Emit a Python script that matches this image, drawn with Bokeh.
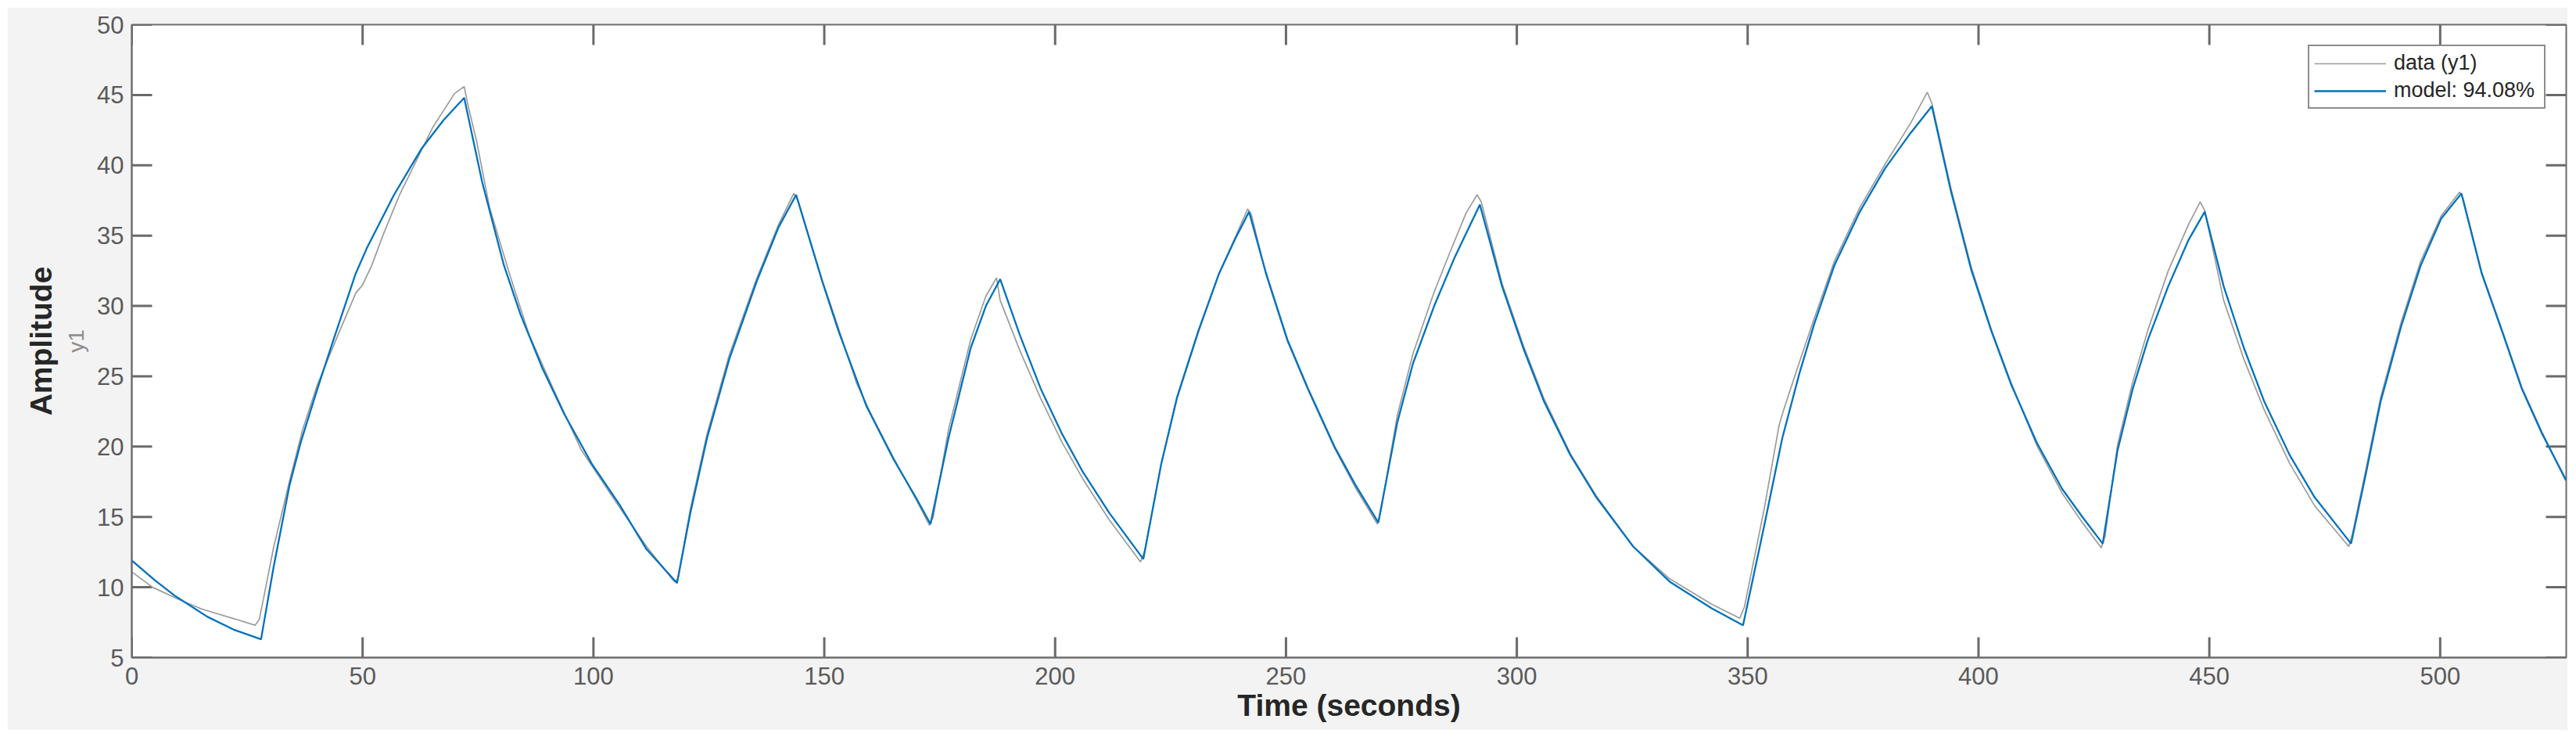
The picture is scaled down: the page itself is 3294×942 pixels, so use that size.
from bokeh.plotting import figure
from bokeh.models import Range1d, FixedTicker, LinearAxis, Legend, LegendItem
from bokeh.embed import file_html
from bokeh.resources import INLINE

# ---------------- data ----------------
x_ticks = [0, 50, 100, 150, 200, 250, 300, 350, 400, 450, 500]
y_ticks = [5, 10, 15, 20, 25, 30, 35, 40, 45, 50]
x_min, x_max = 0, 527.3
y_min, y_max = 5, 50

model_t = [0, 5, 9.3, 16.4, 22, 28.0, 30.7, 34.2, 36.6, 40.2, 43.7, 48.5, 50.9, 56.8, 62.8, 67.5, 72.0,
           75.9, 80.6, 84.2, 88.9, 93.7, 99.6, 105.6, 111.5, 118.1, 121.0, 124.6, 129.4, 135.3, 140.1, 143.9,
           149.6, 153.1, 159.1, 165.0, 169.8, 173.0, 176.9, 181.7, 185.0, 188.1, 192.4, 196.9, 201.5, 206.0,
           211.7, 219.1, 223.0, 226.4, 231.0, 235.5, 238.9, 242.0, 245.7, 250.3, 254.8, 260.5, 265.0, 270.0,
           274.1, 277.5, 282.1, 286.6, 292.0, 296.8, 301.4, 305.9, 311.6, 317.2, 325.2, 333.1, 342.2, 349.0,
           353.6, 357.5, 361.2, 364.4, 368.8, 374.3, 379.8, 385.3, 389.9, 394.0, 398.4, 402.8, 407.1, 412.6,
           418.1, 422.5, 426.9, 430.1, 433.4, 436.7, 441.1, 445.5, 449.0, 453.1, 457.5, 461.9, 467.4, 472.8,
           480.7, 483.8, 487.1, 491.5, 495.8, 500.2, 504.6, 509.0, 513.4, 517.7, 522.1, 527.3]
model_y = [11.9, 10.5, 9.4, 7.9, 7.0, 6.3, 11.4, 17.3, 20.3, 24.1, 27.6, 32.3, 34.1, 37.9, 41.2, 43.2, 44.8,
           38.8, 32.9, 29.4, 25.6, 22.3, 18.8, 15.9, 12.7, 10.3, 15.3, 20.6, 26.2, 31.7, 35.6, 37.9,
           31.7, 28.2, 22.9, 19.1, 16.4, 14.5, 20.6, 27.0, 30.0, 31.9, 27.9, 24.1, 20.9, 18.2,
           15.3, 12.0, 18.8, 23.5, 28.2, 32.3, 34.7, 36.7, 32.3, 27.6, 24.1, 20.0, 17.3, 14.6,
           21.7, 25.9, 30.0, 33.5, 37.2, 31.4, 27.0, 23.2, 19.4, 16.4, 12.9, 10.4, 8.5, 7.3,
           14.4, 20.6, 25.2, 28.7, 32.9, 36.7, 39.8, 42.3, 44.2, 38.2, 32.6, 28.2, 24.4, 20.3,
           17.0, 15.0, 13.1, 19.7, 24.1, 27.6, 31.4, 34.7, 36.7, 31.4, 27.0, 23.2, 19.4, 16.4,
           13.1, 17.9, 23.2, 28.5, 32.9, 36.2, 38.0, 32.3, 28.2, 24.1, 20.9, 17.6]

data_t = [0, 4.5, 10.4, 15.2, 22.3, 26.7, 27.6, 28.6, 30.7, 34.2, 37.0, 40.2, 45.0, 48.5, 50.0, 52.0, 54.5,
          58.0, 61.6, 65.2, 69.9, 72.0, 72.8, 74.7, 77.5, 81.8, 86.0, 91.3, 97.3, 105.6, 111.5, 117.5,
          118.3, 121.0, 124.6, 129.4, 135.3, 140.1, 143.4, 144.3, 149.6, 153.1, 157.0, 160.3, 165.0, 169.8, 172.8,
          173.6, 176.9, 181.7, 185.0, 187.3, 188.1, 192.4, 196.9, 201.5, 206.0, 211.7, 218.5,
          219.4, 223.0, 226.4, 231.0, 235.5, 238.9, 241.7, 242.5, 245.7, 250.3, 254.8, 260.5, 265.0, 269.8,
          270.6, 274.1, 277.5, 282.1, 285.5, 289.0, 291.4, 292.3, 296.8, 301.4, 305.9, 311.6, 317.2, 325.2,
          333.1, 342.2, 348.3,
          349.3, 353.6, 356.8, 357.8, 361.2, 364.4, 368.8, 374.3, 379.8, 385.3, 388.9, 389.9, 394.0, 398.4,
          402.8, 407.1, 412.6, 418.1, 422.5, 426.6,
          427.4, 430.1, 433.4, 436.7, 441.1, 445.5, 448.0, 449.0, 453.1, 457.5, 461.9, 467.4, 472.8, 480.2,
          481.0, 483.8, 487.1, 491.5, 495.8, 500.2, 504.2, 505.0, 509.0, 513.4, 517.7, 522.1, 527.3]
data_y = [11.1, 10.0, 9.1, 8.45, 7.75, 7.3, 7.7, 9.3, 12.8, 17.6, 21.2, 24.4, 28.2, 30.9, 31.5, 32.9, 35.1,
          37.9, 40.3, 42.7, 45.1, 45.6, 44.3, 41.7, 37.0, 32.3, 28.0, 24.1, 19.8, 15.7, 12.9, 10.4,
          10.6, 15.6, 20.9, 26.5, 31.9, 35.8, 38.0, 37.5, 31.8, 28.4, 24.5, 22.2, 19.2, 16.3, 14.4,
          15.0, 21.2, 27.6, 30.7, 32.0, 30.4, 26.8, 23.4, 20.3, 17.7, 14.8, 11.8,
          12.6, 18.8, 23.4, 28.1, 32.3, 34.8, 36.9, 36.5, 32.2, 27.5, 24.0, 19.9, 17.1, 14.5,
          15.5, 22.2, 26.6, 31.0, 33.8, 36.6, 37.9, 37.4, 31.6, 27.2, 23.4, 19.5, 16.5, 12.9,
          10.6, 8.8, 7.8,
          8.6, 15.6, 21.5, 22.6, 26.0, 29.1, 33.2, 37.0, 40.1, 43.0, 45.2, 44.4, 38.4, 32.8,
          28.3, 24.5, 20.1, 16.7, 14.6, 12.8,
          13.6, 20.1, 24.6, 28.3, 32.5, 35.8, 37.4, 36.8, 30.4, 26.2, 22.6, 18.8, 15.8, 12.9,
          13.8, 18.2, 23.5, 28.8, 33.2, 36.4, 38.1, 37.6, 32.4, 28.3, 24.2, 21.0, 17.5]

data_label = "data (y1)"
model_label = "model: 94.08%"
x_label = "Time (seconds)"
y_label = "Amplitude"
y_sublabel = "y1"

# ---------------- styling ----------------
FONT = "Liberation Sans"
AX = "#6e6e6e"
TICKCOL = "#6a6a6a"
TICKLBL = "#5a5a5a"
BG = "#f3f3f3"
TICK_LEN = 26                     # px
FRAME_W, FRAME_H = 3113, 809      # px (frame size set by width/height/borders below)

p = figure(width=3274, height=924, output_backend="svg", toolbar_location=None,
           x_range=Range1d(x_min, x_max), y_range=Range1d(y_min, y_max),
           min_border_left=159, min_border_right=2, min_border_top=22, min_border_bottom=93,
           margin=(9, 0, 0, 9))
p.border_fill_color = BG
p.background_fill_color = "white"
p.outline_line_color = AX
p.outline_line_width = 2
p.xgrid.visible = False
p.ygrid.visible = False


def style_axis(ax, ticks):
    ax.ticker = FixedTicker(ticks=ticks)
    ax.axis_line_color = AX
    ax.axis_line_width = 2
    ax.major_tick_in = 0
    ax.major_tick_out = 0
    ax.major_tick_line_color = None
    ax.minor_tick_in = 0
    ax.minor_tick_out = 0
    ax.minor_tick_line_color = None
    ax.major_label_text_font = FONT
    ax.major_label_text_font_size = "31px"
    ax.major_label_text_color = TICKLBL


xa = p.xaxis[0]
style_axis(xa, x_ticks)
xa.major_label_standoff = 12
xa.axis_label = x_label
xa.axis_label_text_font = FONT
xa.axis_label_text_font_size = "39px"
xa.axis_label_text_font_style = "bold"
xa.axis_label_text_color = "#262626"
xa.axis_label_standoff = 2

ya = p.yaxis[0]
style_axis(ya, y_ticks)
ya.major_label_standoff = 10
ya.axis_label = y_sublabel
ya.axis_label_text_font = FONT
ya.axis_label_text_font_size = "28px"
ya.axis_label_text_font_style = "normal"
ya.axis_label_text_color = "#8c8c8c"
ya.axis_label_standoff = 8

ya2 = LinearAxis(axis_label=y_label)
ya2.ticker = FixedTicker(ticks=[])
ya2.axis_line_color = None
ya2.major_tick_line_color = None
ya2.minor_tick_line_color = None
ya2.major_tick_in = 0
ya2.major_tick_out = 0
ya2.major_label_text_color = None
ya2.major_label_text_font_size = "1px"
ya2.major_label_standoff = 0
ya2.axis_label_text_font = FONT
ya2.axis_label_text_font_size = "39px"
ya2.axis_label_text_font_style = "bold"
ya2.axis_label_text_color = "#262626"
ya2.axis_label_standoff = 6
p.add_layout(ya2, "left")

# inward tick marks on all four sides (MATLAB box style), length converted to data units
dy = TICK_LEN * (y_max - y_min) / FRAME_H
dx = TICK_LEN * (x_max - x_min) / FRAME_W
nx, ny = len(x_ticks), len(y_ticks)
seg_kw = dict(line_color=TICKCOL, line_width=3)
p.segment(x0=x_ticks, y0=[y_min] * nx, x1=x_ticks, y1=[y_min + dy] * nx, **seg_kw)
p.segment(x0=x_ticks, y0=[y_max] * nx, x1=x_ticks, y1=[y_max - dy] * nx, **seg_kw)
p.segment(x0=[x_min] * ny, y0=y_ticks, x1=[x_min + dx] * ny, y1=y_ticks, **seg_kw)
p.segment(x0=[x_max] * ny, y0=y_ticks, x1=[x_max - dx] * ny, y1=y_ticks, **seg_kw)

r_data = p.line(data_t, data_y, line_color="#9c9c9c", line_width=1.7)
r_model = p.line(model_t, model_y, line_color="#0072BD", line_width=2.3)

legend = Legend(items=[LegendItem(label=data_label, renderers=[r_data]),
                       LegendItem(label=model_label, renderers=[r_model])],
                location="top_right")
legend.margin = 26
legend.padding = 6
legend.spacing = 4
legend.glyph_width = 92
legend.glyph_height = 26
legend.label_standoff = 10
legend.label_width = 186
legend.label_height = 26
legend.label_text_font = FONT
legend.label_text_font_size = "27px"
legend.label_text_color = "#262626"
legend.border_line_color = "#1a1a1a"
legend.border_line_width = 2
legend.background_fill_color = "white"
legend.background_fill_alpha = 1.0
p.add_layout(legend, "center")

open("out.html", "w").write(file_html(p, INLINE))
